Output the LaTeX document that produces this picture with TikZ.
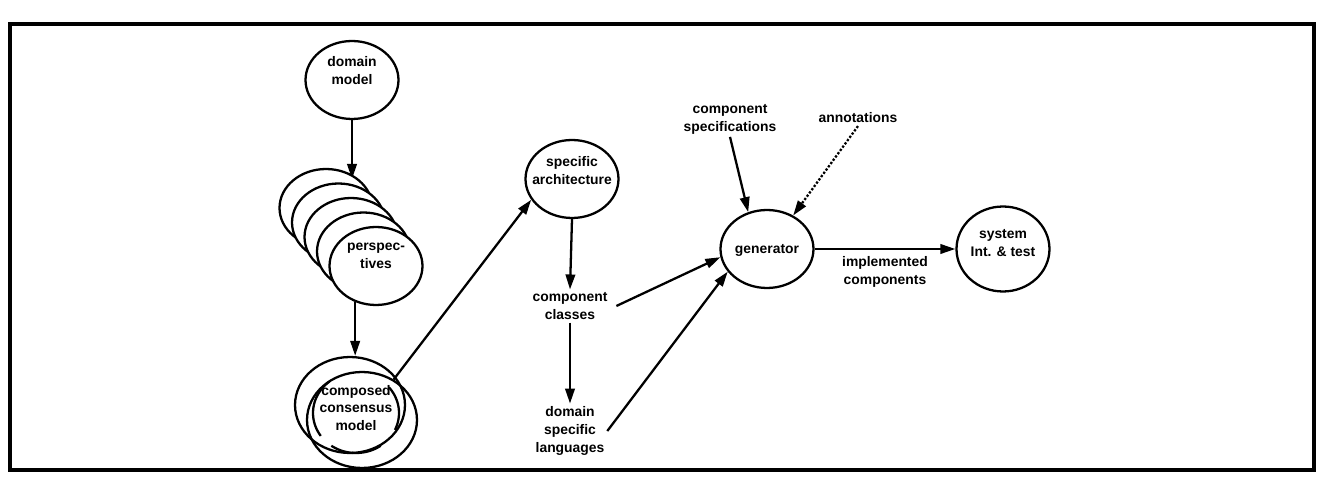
\documentclass[tikz,border=0pt]{standalone}
\usepackage{fontspec}
\setmainfont{Liberation Sans}
\usetikzlibrary{shapes.geometric,arrows.meta}
\tikzset{
	bub/.style={draw, line width=1.3pt, ellipse, minimum width=1.86cm, minimum height=1.56cm, inner sep=0pt, fill=white},
	txt/.style={align=center, inner sep=1.5pt},
	arr/.style={line width=1.3pt, -{Triangle[length=3mm,width=1.9mm]}},
	ring/.style={draw, line width=1.3pt, ellipse, minimum width=2.2cm, minimum height=1.92cm, inner sep=0pt},
}
\begin{document}
\begin{tikzpicture}[x=0.02cm, y=-0.02cm, font=\fontsize{7.9}{10.2}\selectfont\bfseries]
		\useasboundingbox (0,0) rectangle (1320,479);
		%--frame
		\draw[line width=2.3pt] (10,24) rectangle (1314,470);
		
		%--domain model
		\node[bub] (dom) at (352,80) {};
		\node[txt] (domtxt) at (352,71) {domain\\model};
		\coordinate (ptop) at (352,179);
		\draw[arr] (dom.south) -- (ptop);
		
		%--stack of perspectives
		\foreach \i in {1,...,5}
			\node[bub] (p\i) at ({326+12.5*(\i-1)},{208+14.5*(\i-1)}) {};
		\node[txt] (ptxt) at (376,256) {perspec-\\tives};
		
		%--composed consensus model
		\node[ring] (cA) at (350,405) {};
		\node[ring] (cB) at (362,420) {};
		\foreach \a/\b in {145/232, -40/25, 55/125}
			\draw[line width=1.3pt] plot[domain=\a:\b, samples=25] ({356+43*cos(\x)},{413+40*sin(\x)});
		\node[txt] (ccm) at (356,408) {composed\\consensus\\model};
		\draw[arr] (p5.240) -- (p5.240 |- cA.north);
		
		%--specific architecture
		\node[bub] (sa) at (572,179) {};
		\node[txt] (satxt) at (572,171) {specific\\architecture};
		\draw[arr] (cB.52) -- (sa.207);
		
		\node[txt] (cc) at (570,306) {component\\classes};
		\node[txt] (dsl) at (570,431) {domain\\specific\\languages};
		\draw[arr] (sa.south) -- (cc.north);
		\draw[arr] (cc.south) -- (dsl.north);
		
		%--generator
		\node[bub] (gen) at (767,249) {};
		\node[txt] (gentxt) at (767,250) {generator};
		\node[txt] (cs) at (730,119) {component\\specifications};
		\node[txt] (an) at (858,118) {annotations};
		\draw[arr] ([xshift=0.12cm]cc.east) -- (gen.190);
		\draw[arr] (dsl.east) -- (gen.210);
		\draw[arr] (cs.south) -- (gen.117);
		\draw[arr, dash pattern=on 1.3pt off 1pt] (an.south) -- (gen.52);
		
		%--system integration
		\node[bub, minimum height=1.7cm] (sys) at (1003,249) {};
		\node[txt] (systxt) at (1003,243) {system\\Int. \& test};
		\draw[arr] (gen.east) -- (sys.west)
			node[txt, midway, below, yshift=-2pt] (impl) {implemented\\components};
	\end{tikzpicture}
\end{document}
